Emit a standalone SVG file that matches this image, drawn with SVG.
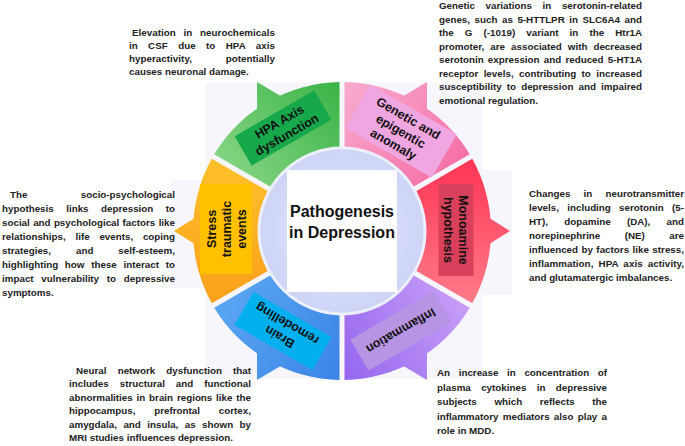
<svg xmlns="http://www.w3.org/2000/svg" width="685" height="446" viewBox="0 0 685 446">
<style>
.lbl{font-family:"Liberation Sans",Arial,sans-serif;font-weight:bold;font-size:12.5px;fill:#111;text-anchor:middle}
.desc{font-family:"Liberation Sans",Arial,sans-serif;font-weight:bold;font-size:9.8px;fill:#222}
.title{font-family:"Liberation Sans",Arial,sans-serif;font-weight:bold;font-size:16px;fill:#111;text-anchor:middle}
.pale{fill:#f6f6fc}
</style>
<defs>
<linearGradient id="gHpa" gradientUnits="userSpaceOnUse" x1="335" y1="85" x2="215" y2="190"><stop offset="0" stop-color="#3db54a"/><stop offset="1" stop-color="#8fd98a"/></linearGradient>
<linearGradient id="gGen" gradientUnits="userSpaceOnUse" x1="350" y1="90" x2="470" y2="190"><stop offset="0" stop-color="#f9a8cc"/><stop offset="1" stop-color="#f4669f"/></linearGradient>
<linearGradient id="gMono" gradientUnits="userSpaceOnUse" x1="470" y1="160" x2="470" y2="305"><stop offset="0" stop-color="#ff3555"/><stop offset="1" stop-color="#ff7b8a"/></linearGradient>
<linearGradient id="gInf" gradientUnits="userSpaceOnUse" x1="345" y1="380" x2="470" y2="305"><stop offset="0" stop-color="#9566ee"/><stop offset="1" stop-color="#c89ef8"/></linearGradient>
<linearGradient id="gBrain" gradientUnits="userSpaceOnUse" x1="215" y1="305" x2="340" y2="380"><stop offset="0" stop-color="#5aa6f2"/><stop offset="1" stop-color="#3b84e6"/></linearGradient>
<linearGradient id="gStress" gradientUnits="userSpaceOnUse" x1="212" y1="160" x2="212" y2="300"><stop offset="0" stop-color="#ffc12b"/><stop offset="1" stop-color="#f9a11b"/></linearGradient>
<radialGradient id="gDisk" cx="0.5" cy="0.5" r="0.5"><stop offset="0" stop-color="#e6e9fc"/><stop offset="1" stop-color="#cdd4f6"/></radialGradient>
</defs>
<rect width="685" height="446" fill="#ffffff"/>
<g id="background">
<rect class="pale" x="205" y="83" width="277" height="296"/>
<rect class="pale" x="171" y="180" width="34" height="108"/>
<rect class="pale" x="482" y="170" width="30" height="125"/>
</g>
<g id="connectors"></g>
<g id="node-hpa">
<polygon points="257,82 284,98 257,116" fill="url(#gHpa)"/>
<path d="M339.5 82.02 A149 149 0 0 0 214.23 154.35 L270.54 186.85 A84 84 0 0 1 339.5 147.04 Z" fill="url(#gHpa)"/>
<g transform="translate(283,128) rotate(-30)">
<rect x="-46" y="-17" width="92" height="34" fill="#17a84b"/>
<text class="lbl" x="0" y="-3">HPA Axis</text>
<text class="lbl" x="0" y="12">dysfunction</text>
</g>
<text class="desc" x="132" y="36" textLength="143" lengthAdjust="spacing" word-spacing="5">Elevation in neurochemicals</text>
<text class="desc" x="129" y="49" textLength="146" lengthAdjust="spacing" word-spacing="7.5">in CSF due to HPA axis</text>
<text class="desc" x="129" y="62" textLength="146" lengthAdjust="spacing" word-spacing="31">hyperactivity, potentially</text>
<text class="desc" x="129" y="75">causes neuronal damage.</text>
</g>
<g id="node-genetic">
<polygon points="427,82 400,98 427,116" fill="url(#gGen)"/>
<path d="M469.77 154.35 A149 149 0 0 0 344.5 82.02 L344.5 147.04 A84 84 0 0 1 413.46 186.85 Z" fill="url(#gGen)"/>
<g transform="translate(401,131) rotate(30)">
<rect x="-50" y="-25" width="100" height="50" fill="#f0a6e0"/>
<text class="lbl" x="0" y="-10.5">Genetic and</text>
<text class="lbl" x="0" y="4.5">epigentic</text>
<text class="lbl" x="0" y="19.5">anomaly</text>
</g>
<text class="desc" x="439" y="9" textLength="203" lengthAdjust="spacing" word-spacing="7.9">Genetic variations in serotonin-related</text>
<text class="desc" x="439" y="22.5" textLength="203" lengthAdjust="spacing" word-spacing="1.8">genes, such as 5-HTTLPR in SLC6A4 and</text>
<text class="desc" x="439" y="36" textLength="203" lengthAdjust="spacing" word-spacing="8.4">the G (-1019) variant in the Htr1A</text>
<text class="desc" x="439" y="49.5" textLength="203" lengthAdjust="spacing" word-spacing="3.2">promoter, are associated with decreased</text>
<text class="desc" x="439" y="63" textLength="203" lengthAdjust="spacing" word-spacing="1.5">serotonin expression and reduced 5-HT1A</text>
<text class="desc" x="439" y="76.5" textLength="203" lengthAdjust="spacing" word-spacing="2.7">receptor levels, contributing to increased</text>
<text class="desc" x="439" y="90" textLength="203" lengthAdjust="spacing" word-spacing="2.4">susceptibility to depression and impaired</text>
<text class="desc" x="439" y="103.5">emotional regulation.</text>
</g>
<g id="node-monoamine">
<polygon points="510,231 486,216 486,246" fill="url(#gMono)"/>
<path d="M472.27 303.33 A149 149 0 0 0 472.27 158.68 L415.96 191.19 A84 84 0 0 1 415.96 270.81 Z" fill="url(#gMono)"/>
<g transform="translate(456,230) rotate(90)">
<rect x="-46" y="-17.5" width="92" height="35" fill="#d9405c"/>
<text class="lbl" x="0" y="-2.5">Monoamine</text>
<text class="lbl" x="0" y="12.5">hypothesis</text>
</g>
<text class="desc" x="529" y="197" textLength="155" lengthAdjust="spacing" word-spacing="10.5">Changes in neurotransmitter</text>
<text class="desc" x="529" y="211" textLength="155" lengthAdjust="spacing" word-spacing="5.6">levels, including serotonin (5-</text>
<text class="desc" x="529" y="225" textLength="155" lengthAdjust="spacing" word-spacing="13.6">HT), dopamine (DA), and</text>
<text class="desc" x="529" y="239" textLength="155" lengthAdjust="spacing" word-spacing="21.7">norepinephrine (NE) are</text>
<text class="desc" x="529" y="253" textLength="155" lengthAdjust="spacing" word-spacing="0.7">influenced by factors like stress,</text>
<text class="desc" x="529" y="267" textLength="155" lengthAdjust="spacing" word-spacing="2.3">inflammation, HPA axis activity,</text>
<text class="desc" x="529" y="281">and glutamatergic imbalances.</text>
</g>
<g id="node-inflammation">
<polygon points="427,380 400,364 427,346" fill="url(#gInf)"/>
<path d="M344.5 379.98 A149 149 0 0 0 469.77 307.65 L413.46 275.15 A84 84 0 0 1 344.5 314.96 Z" fill="url(#gInf)"/>
<g transform="translate(401,331) rotate(150)">
<rect x="-48" y="-18" width="96" height="36" fill="#b894e4"/>
<text class="lbl" x="0" y="4.5">Inflammation</text>
</g>
<text class="desc" x="437" y="376" textLength="170" lengthAdjust="spacing" word-spacing="5.9">An increase in concentration of</text>
<text class="desc" x="437" y="390.5" textLength="170" lengthAdjust="spacing" word-spacing="7.6">plasma cytokines in depressive</text>
<text class="desc" x="437" y="405" textLength="170" lengthAdjust="spacing" word-spacing="14.9">subjects which reflects the</text>
<text class="desc" x="437" y="419.5" textLength="170" lengthAdjust="spacing" word-spacing="1.5">inflammatory mediators also play a</text>
<text class="desc" x="437" y="434">role in MDD.</text>
</g>
<g id="node-brain">
<polygon points="257,380 284,364 257,346" fill="url(#gBrain)"/>
<path d="M214.23 307.65 A149 149 0 0 0 339.5 379.98 L339.5 314.96 A84 84 0 0 1 270.54 275.15 Z" fill="url(#gBrain)"/>
<g transform="translate(283,331) rotate(-150)">
<rect x="-45" y="-19" width="90" height="38" fill="#02b0ef"/>
<text class="lbl" x="0" y="-2.5">Brain</text>
<text class="lbl" x="0" y="12.5">remodelling</text>
</g>
<text class="desc" x="76" y="374" textLength="175" lengthAdjust="spacing" word-spacing="8.4">Neural network dysfunction that</text>
<text class="desc" x="69" y="387.4" textLength="182" lengthAdjust="spacing" word-spacing="8.2">includes structural and functional</text>
<text class="desc" x="69" y="400.8" textLength="182" lengthAdjust="spacing" word-spacing="1.1">abnormalities in brain regions like the</text>
<text class="desc" x="69" y="414.2" textLength="182" lengthAdjust="spacing" word-spacing="16.1">hippocampus, prefrontal cortex,</text>
<text class="desc" x="69" y="427.6" textLength="182" lengthAdjust="spacing" word-spacing="3.7">amygdala, and insula, as shown by</text>
<text class="desc" x="69" y="441">MRI studies influences depression.</text>
</g>
<g id="node-stress">
<polygon points="174,231 198,216 198,246" fill="url(#gStress)"/>
<path d="M211.73 158.68 A149 149 0 0 0 211.73 303.33 L268.04 270.81 A84 84 0 0 1 268.04 191.19 Z" fill="url(#gStress)"/>
<g transform="translate(226,229) rotate(-90)">
<rect x="-45" y="-26" width="90" height="52" fill="#ffc000"/>
<text class="lbl" x="0" y="-10.5">Stress</text>
<text class="lbl" x="0" y="4.5">traumatic</text>
<text class="lbl" x="0" y="19.5">events</text>
</g>
<text class="desc" x="10" y="198" textLength="165" lengthAdjust="spacing" word-spacing="50.6">The socio-psychological</text>
<text class="desc" x="2" y="212" textLength="173" lengthAdjust="spacing" word-spacing="9.7">hypothesis links depression to</text>
<text class="desc" x="2" y="226" textLength="173" lengthAdjust="spacing" word-spacing="0.6">social and psychological factors like</text>
<text class="desc" x="2" y="240" textLength="173" lengthAdjust="spacing" word-spacing="7">relationships, life events, coping</text>
<text class="desc" x="2" y="254" textLength="173" lengthAdjust="spacing" word-spacing="22.2">strategies, and self-esteem,</text>
<text class="desc" x="2" y="268" textLength="173" lengthAdjust="spacing" word-spacing="4">highlighting how these interact to</text>
<text class="desc" x="2" y="282" textLength="173" lengthAdjust="spacing" word-spacing="5">impact vulnerability to depressive</text>
<text class="desc" x="2" y="296">symptoms.</text>
</g>
<g id="node-center">
<circle cx="342" cy="231" r="83" fill="url(#gDisk)" stroke="#eceffd" stroke-width="3"/>
<rect x="287" y="170" width="110" height="122" fill="#ffffff"/>
<text class="title" x="342" y="217">Pathogenesis</text>
<text class="title" x="342" y="238">in Depression</text>
</g>
</svg>
